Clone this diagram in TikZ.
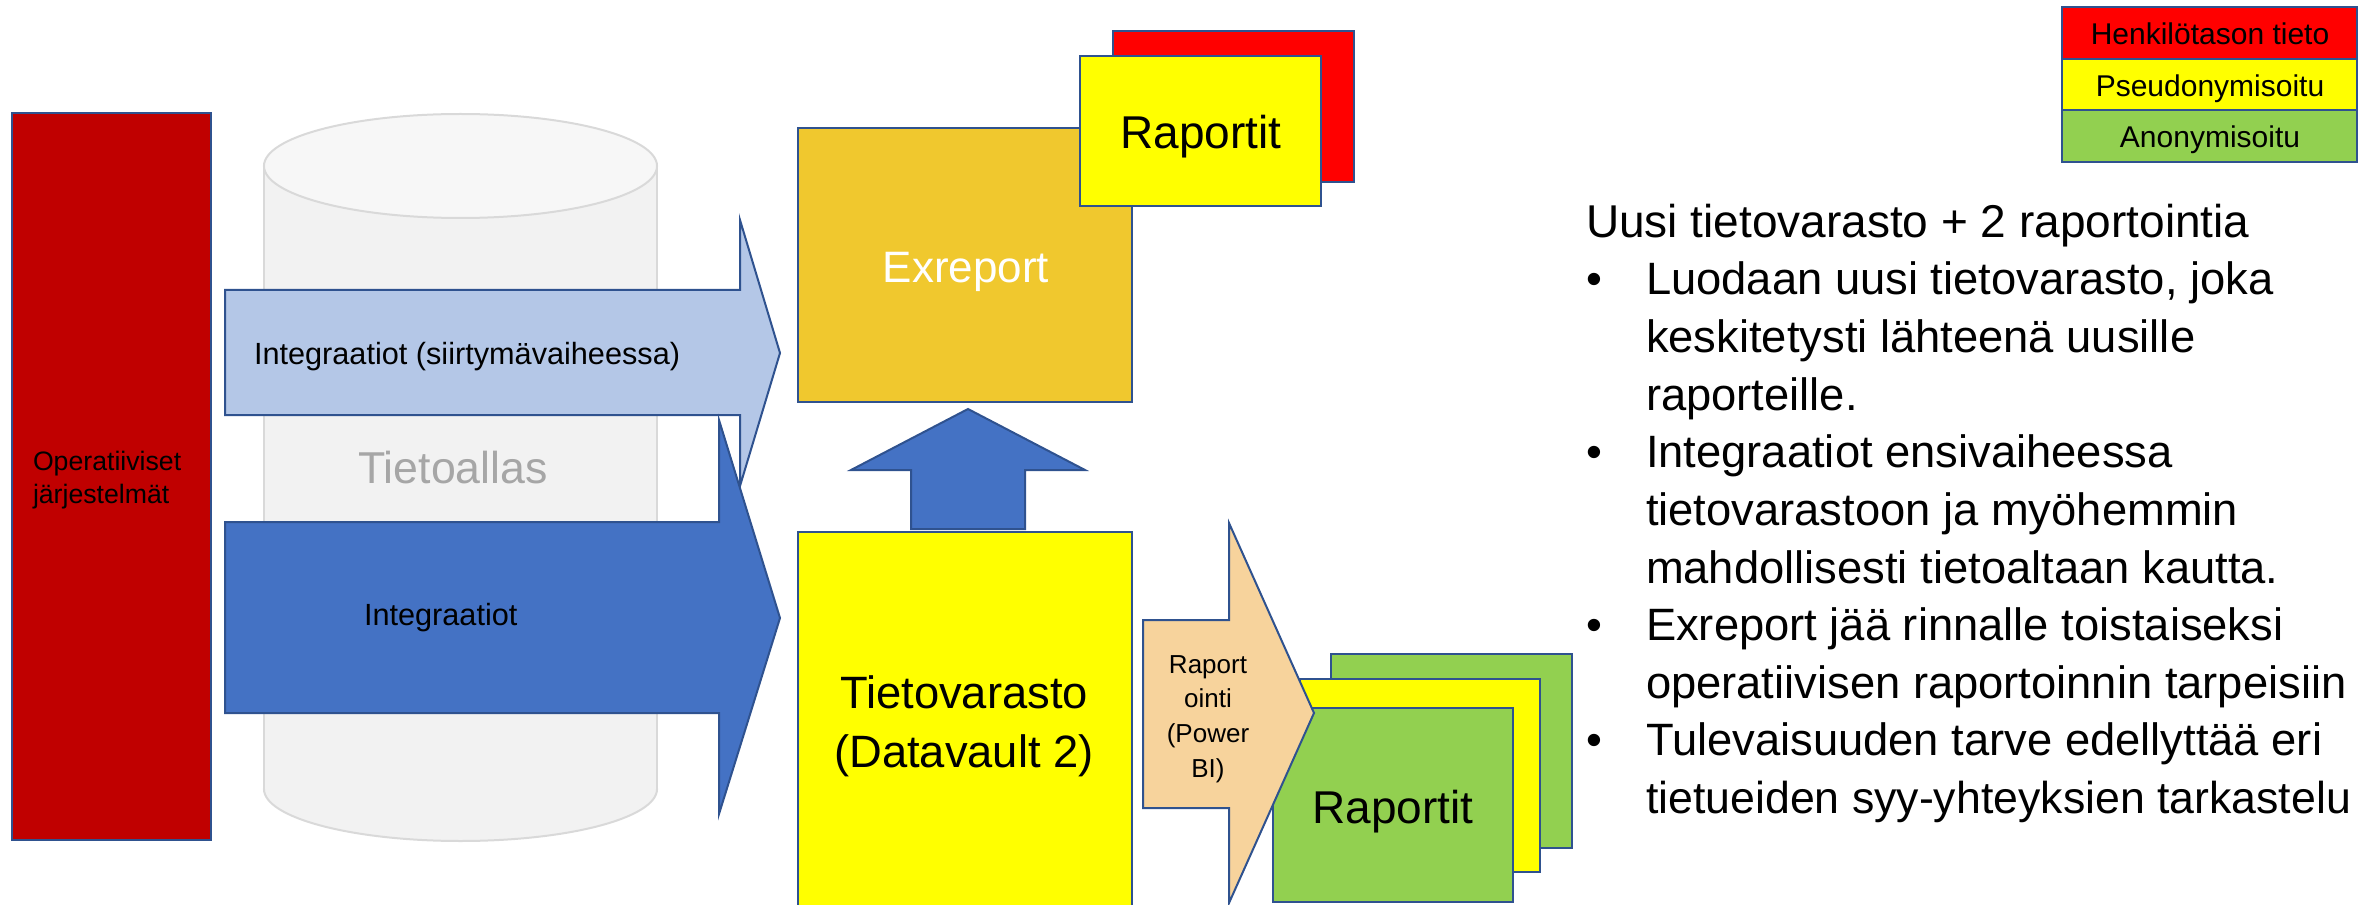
\documentclass[tikz,border=0pt]{standalone}
\usepackage{fontspec}
\setmainfont{Liberation Sans}
\definecolor{bord}{HTML}{2F528F}
\definecolor{opred}{HTML}{C00000}
\definecolor{lightarr}{HTML}{B4C7E7}
\definecolor{darkarr}{HTML}{4472C4}
\definecolor{gold}{HTML}{F0C82E}
\definecolor{yel}{HTML}{FFFF00}
\definecolor{rred}{HTML}{FF0000}
\definecolor{grn}{HTML}{92D050}
\definecolor{peach}{HTML}{F7D39C}
\definecolor{cylbody}{HTML}{F2F2F2}
\definecolor{cyltop}{HTML}{F7F7F7}
\definecolor{cyledge}{HTML}{D9D9D9}
\definecolor{lakegray}{HTML}{A6A6A6}
\newcommand{\myfs}[1]{\fontsize{#1}{#1}\selectfont}
\tikzset{
  box/.style={draw=bord, line width=1.5pt},
  boxnode/.style={box, rectangle, inner sep=0pt, outer sep=0pt},
  txt/.style={inner sep=0pt, outer sep=0pt, anchor=base},
  ltxt/.style={inner sep=0pt, outer sep=0pt, anchor=base west},
  cyl/.style={draw=cyledge, line width=1.5pt},
}
\begin{document}
\begin{tikzpicture}[x=0.75pt,y=-0.75pt]
\useasboundingbox (0,0) rectangle (2358,905);
% data lake cylinder
\draw[cyl, fill=cylbody] (460.5,789) ellipse [x radius=147.4pt, y radius=39pt];
\fill[cylbody] (264,166) rectangle (657,789);
\draw[cyl] (264,166) -- (264,789);
\draw[cyl] (657,166) -- (657,789);
\draw[cyl, fill=cyltop] (460.5,166) ellipse [x radius=147.4pt, y radius=39pt];
\node[txt, text=lakegray] (lake) at (453,483) {\myfs{33.5}Tietoallas};
% operative systems
\node[boxnode, fill=opred, minimum width=149.25pt, minimum height=545.25pt] (ops) at (111.5,476.5) {};
\node[ltxt] (ops1) at (33,470) {\myfs{20}Operatiiviset};
\node[ltxt] (ops2) at (33,503) {\myfs{20}järjestelmät};
% integration arrows
\draw[box, fill=lightarr] (225,290) -- (740,290) -- (740,220) -- (780,353) -- (740,486) -- (740,415) -- (225,415) -- cycle;
\node[ltxt] (int1) at (254,364) {\myfs{23}Integraatiot (siirtymävaiheessa)};
\draw[box, fill=darkarr] (225,522) -- (719,522) -- (719,420) -- (780,618) -- (719,814) -- (719,713) -- (225,713) -- cycle;
\node[ltxt] (int2) at (364,625) {\myfs{23}Integraatiot};
% Exreport and its reports
\node[boxnode, fill=gold, minimum width=250.5pt, minimum height=205.5pt] (exr) at (965,265) {};
\node[txt, text=white] (exrt) at (966,283) {\myfs{33}Exreport};
\node[boxnode, fill=rred, minimum width=180.75pt, minimum height=113.25pt] (rep1b) at (1233.5,106.5) {};
\node[boxnode, fill=yel, minimum width=180.75pt, minimum height=112.5pt] (rep1) at (1200.5,131) {};
\node[txt] (rep1t) at (1201,149) {\myfs{34.5}Raportit};
% up arrow
\draw[box, fill=darkarr] (911,529) -- (911,470) -- (851,470) -- (968,409) -- (1085,470) -- (1025,470) -- (1025,529) -- cycle;
% data warehouse
\draw[box, fill=yel] (798,532) rectangle (1132,925);
\node[txt] (dw1) at (964,708) {\myfs{34}Tietovarasto};
\node[txt] (dw2) at (964,767) {\myfs{34}(Datavault 2)};
% reports from warehouse
\node[boxnode, fill=grn, minimum width=180.75pt, minimum height=145.5pt] (rep2c) at (1451.5,751) {};
\node[boxnode, fill=yel, minimum width=180pt, minimum height=144.75pt] (rep2b) at (1420,775.5) {};
\node[boxnode, fill=grn, minimum width=180pt, minimum height=145.5pt] (rep2) at (1393,805) {};
\node[txt] (rep2t) at (1393,823) {\myfs{34.5}Raportit};
% reporting arrow
\draw[box, fill=peach] (1143,620) -- (1229,620) -- (1229,523) -- (1314,713) -- (1229,903) -- (1229,808) -- (1143,808) -- cycle;
\node[txt] (ra1) at (1208,673) {\myfs{19.5}Raport};
\node[txt] (ra2) at (1208,707) {\myfs{19.5}ointi};
\node[txt] (ra3) at (1208,742) {\myfs{19.5}(Power};
\node[txt] (ra4) at (1208,777) {\myfs{19.5}BI)};
% text panel
\node[ltxt] (title) at (1586,238) {\myfs{34.5}Uusi tietovarasto + 2 raportointia};
\node[ltxt] (b1) at (1586,295) {\myfs{34}•};
\node[ltxt] (b2) at (1586,467.8) {\myfs{34}•};
\node[ltxt] (b3) at (1586,640.6) {\myfs{34}•};
\node[ltxt] (b4) at (1586,755.8) {\myfs{34}•};
\node[ltxt] (l1) at (1646,295) {\myfs{34}Luodaan uusi tietovarasto, joka};
\node[ltxt] (l2) at (1646,352.6) {\myfs{34}keskitetysti lähteenä uusille};
\node[ltxt] (l3) at (1646,410.2) {\myfs{34}raporteille.};
\node[ltxt] (l4) at (1646,467.8) {\myfs{34}Integraatiot ensivaiheessa};
\node[ltxt] (l5) at (1646,525.4) {\myfs{34}tietovarastoon ja myöhemmin};
\node[ltxt] (l6) at (1646,583) {\myfs{34}mahdollisesti tietoaltaan kautta.};
\node[ltxt] (l7) at (1646,640.6) {\myfs{34}Exreport jää rinnalle toistaiseksi};
\node[ltxt] (l8) at (1646,698.2) {\myfs{34}operatiivisen raportoinnin tarpeisiin};
\node[ltxt] (l9) at (1646,755.8) {\myfs{34}Tulevaisuuden tarve edellyttää eri};
\node[ltxt] (l10) at (1646,813.4) {\myfs{33.5}tietueiden syy-yhteyksien tarkastelu};
% legend
\node[boxnode, fill=rred, minimum width=221.25pt, minimum height=39pt] (lg1) at (2209.5,33) {};
\node[boxnode, fill=yel, minimum width=221.25pt, minimum height=38.25pt] (lg2) at (2209.5,84.5) {};
\node[boxnode, fill=grn, minimum width=221.25pt, minimum height=39pt] (lg3) at (2209.5,136) {};
\node[txt] (lg1t) at (2210,45) {\myfs{22.5}Henkilötason tieto};
\node[txt] (lg2t) at (2210,97) {\myfs{22.5}Pseudonymisoitu};
\node[txt] (lg3t) at (2210,148) {\myfs{22.5}Anonymisoitu};
\end{tikzpicture}
\end{document}
